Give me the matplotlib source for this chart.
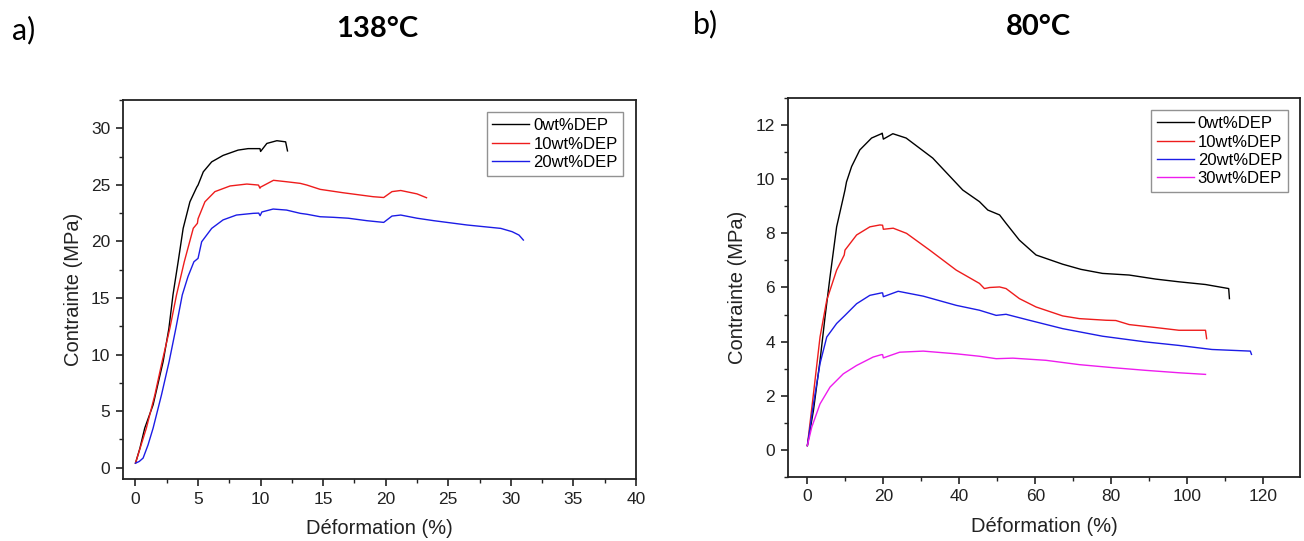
import matplotlib
matplotlib.use('Agg')
import matplotlib.pyplot as plt
from matplotlib.ticker import MultipleLocator

plt.rcParams['font.family'] = ['Liberation Sans', 'DejaVu Sans']

# a) 138 degC
a_labels = ['0wt%DEP', '10wt%DEP', '20wt%DEP']
a0_x = [0, 0.35, 0.74, 1.41, 2.21, 2.67, 3.0, 3.41, 3.81, 4.35, 4.9, 5.0, 5.42, 6.09,
        7.0, 8.2, 9.0, 9.8, 9.95, 10.0, 10.5, 11.3, 12.0, 12.15]
a0_y = [0.4, 1.7, 3.5, 5.56, 9.38, 12.3, 15.3, 18.2, 21.15, 23.5, 24.8, 24.98, 26.15, 27.03,
        27.6, 28.07, 28.2, 28.2, 28.2, 27.95, 28.66, 28.9, 28.8, 28.0]
a10_x = [0, 0.87, 1.55, 2.13, 2.75, 3.28, 3.9, 4.62, 4.95, 5.0, 5.55, 6.35, 7.56, 8.9,
         9.83, 9.95, 10.0, 11.03, 12.1, 13.17, 13.7, 14.76, 16.6, 19.0, 19.84, 20.5,
         21.2, 22.5, 23.26]
a10_y = [0.4, 3.5, 6.44, 9.38, 12.33, 15.27, 18.2, 21.16, 21.6, 22.0, 23.5, 24.4, 24.9, 25.07,
         24.98, 24.7, 24.8, 25.4, 25.27, 25.13, 24.98, 24.6, 24.3, 23.95, 23.88, 24.4,
         24.5, 24.2, 23.86]
a20_x = [0, 0.3, 0.61, 1.0, 1.41, 2.08, 2.69, 3.23, 3.74, 4.2, 4.67, 5.0, 5.29, 6.09, 7.0,
         8.07, 9.4, 9.85, 9.96, 10.1, 11.0, 12.07, 13.17, 13.7, 14.76, 15.8, 17.0, 18.5,
         19.84, 20.5, 21.2, 22.5, 23.85, 26.5, 29.2, 30.1, 30.65, 31.0]
a20_y = [0.4, 0.55, 0.85, 2.0, 3.5, 6.44, 9.38, 12.33, 15.27, 16.9, 18.2, 18.5, 19.97, 21.15, 21.9,
         22.33, 22.48, 22.5, 22.27, 22.6, 22.86, 22.77, 22.48, 22.4, 22.18, 22.13, 22.05, 21.83,
         21.68, 22.24, 22.33, 22.05, 21.83, 21.45, 21.15, 20.86, 20.56, 20.12]

# b) 80 degC
b_labels = ['0wt%DEP', '10wt%DEP', '20wt%DEP', '30wt%DEP']
b0_x = [0, 1.6, 3.33, 4.65, 5.96, 7.7, 9.5, 9.9, 10.3, 11.65, 13.8, 16.9, 19.5, 19.7, 20.0,
        22.5, 26.0, 33.0, 40.9, 45.3, 47.5, 50.6, 52.3, 55.8, 60.2, 67.2, 72.0, 77.7, 84.7,
        91.7, 97.8, 104.8, 110.9, 111.1]
b0_y = [0.16, 1.46, 3.3, 4.91, 6.39, 8.24, 9.35, 9.6, 9.9, 10.47, 11.08, 11.52, 11.68, 11.7, 11.48,
        11.68, 11.52, 10.78, 9.6, 9.17, 8.86, 8.68, 8.37, 7.75, 7.2, 6.86, 6.67, 6.52, 6.46,
        6.31, 6.21, 6.11, 5.96, 5.59]
b10_x = [0, 1.6, 3.33, 5.1, 7.7, 9.7, 9.9, 12.96, 16.45, 19.1, 19.8, 20.0, 22.6, 26.1, 32.2,
         39.2, 45.3, 46.6, 48.0, 50.6, 52.3, 55.8, 60.2, 67.2, 71.6, 78.6, 81.2, 84.7, 91.7,
         97.8, 104.8, 105.1]
b10_y = [0.16, 2.07, 4.17, 5.53, 6.64, 7.2, 7.38, 7.94, 8.24, 8.31, 8.3, 8.15, 8.19, 8.0, 7.38,
         6.64, 6.15, 5.96, 6.0, 6.02, 5.96, 5.59, 5.28, 4.95, 4.85, 4.79, 4.78, 4.63, 4.52,
         4.42, 4.42, 4.11]
b20_x = [0, 1.6, 3.33, 5.1, 7.7, 9.9, 12.96, 16.45, 19.5, 19.8, 20.0, 23.9, 30.5, 39.2, 45.3,
         49.7, 52.3, 58.4, 67.2, 77.7, 89.0, 97.8, 106.5, 116.6, 116.9]
b20_y = [0.16, 1.7, 3.19, 4.17, 4.67, 4.97, 5.4, 5.71, 5.8, 5.8, 5.66, 5.86, 5.68, 5.34, 5.16,
         4.97, 5.01, 4.79, 4.48, 4.2, 3.99, 3.86, 3.71, 3.65, 3.53]
b30_x = [0, 1.15, 3.33, 5.96, 9.45, 12.96, 17.3, 19.5, 19.8, 20.0, 24.3, 30.5, 39.2, 45.3,
         49.7, 54.1, 62.8, 71.6, 80.3, 89.0, 97.8, 104.8]
b30_y = [0.16, 0.84, 1.7, 2.32, 2.81, 3.12, 3.43, 3.52, 3.52, 3.4, 3.61, 3.65, 3.55, 3.46,
         3.37, 3.39, 3.31, 3.15, 3.04, 2.94, 2.85, 2.79]

colors = ['black', '#ee1c1c', '#1c1ce6', '#ee1cee']

fig = plt.figure(figsize=(13.04, 5.41), dpi=100)
ax1 = fig.add_axes([0.0943, 0.1146, 0.3934, 0.7006])
ax2 = fig.add_axes([0.604, 0.1183, 0.3933, 0.7006])

for x, y, c, lab in zip([a0_x, a10_x, a20_x], [a0_y, a10_y, a20_y], colors, a_labels):
    ax1.plot(x, y, color=c, lw=1.0, label=lab)
for x, y, c, lab in zip([b0_x, b10_x, b20_x, b30_x], [b0_y, b10_y, b20_y, b30_y], colors, b_labels):
    ax2.plot(x, y, color=c, lw=1.0, label=lab)

ax1.set_xlim(-1, 40)
ax1.set_ylim(-1, 32.5)
ax1.xaxis.set_major_locator(MultipleLocator(5))
ax1.xaxis.set_minor_locator(MultipleLocator(2.5))
ax1.yaxis.set_major_locator(MultipleLocator(5))
ax1.yaxis.set_minor_locator(MultipleLocator(2.5))

ax2.set_xlim(-5.2, 129.8)
ax2.set_ylim(-1, 13)
ax2.xaxis.set_major_locator(MultipleLocator(20))
ax2.xaxis.set_minor_locator(MultipleLocator(10))
ax2.yaxis.set_major_locator(MultipleLocator(2))
ax2.yaxis.set_minor_locator(MultipleLocator(1))

for ax in (ax1, ax2):
    for s in ax.spines.values():
        s.set_linewidth(1.3)
        s.set_color('#222222')
    ax.tick_params(which='major', direction='out', length=5, width=1.2, labelsize=12.5,
                   pad=4, colors='#222222')
    ax.tick_params(which='minor', direction='out', length=3, width=1.0, colors='#222222')
    ax.set_xlabel('Déformation (%)', fontsize=14.5, color='#222222', labelpad=9)
    ax.set_ylabel('Contrainte (MPa)', fontsize=14.5, color='#222222', labelpad=6)
    leg = ax.legend(loc='upper right', fontsize=12, frameon=True, fancybox=False,
                    handlelength=2.2, handletextpad=0.25, labelspacing=0.2,
                    borderpad=0.35, borderaxespad=0.75)
    leg.get_frame().set_edgecolor('#777777')
    leg.get_frame().set_linewidth(1.0)

title_font = ['Lato', 'DejaVu Sans']
fig.text(12 / 1304, 1 - 30 / 541, 'a)', fontsize=22, family=title_font, va='center', ha='left')
fig.text(377 / 1304, 1 - 29 / 541, '138°C', fontsize=21, fontweight='bold',
         family=title_font, va='center', ha='center')
fig.text(693 / 1304, 1 - 24 / 541, 'b)', fontsize=22, family=title_font, va='center', ha='left')
fig.text(1038 / 1304, 1 - 27 / 541, '80°C', fontsize=21, fontweight='bold',
         family=title_font, va='center', ha='center')

fig.savefig('out.png', dpi=100)
